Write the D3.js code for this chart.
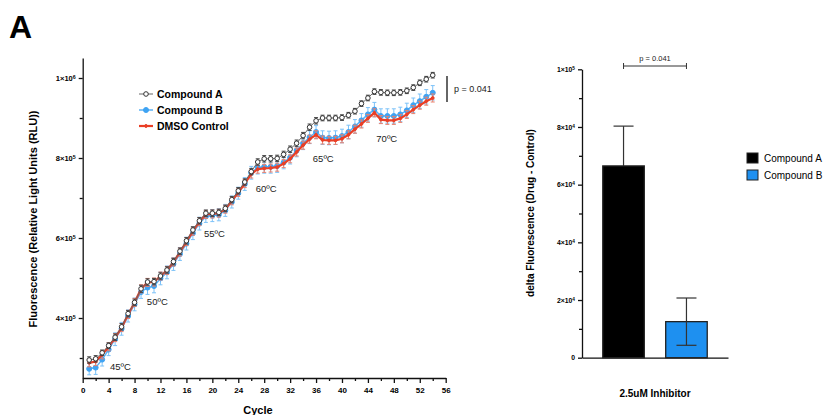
<!DOCTYPE html>
<html>
<head>
<meta charset="utf-8">
<script src="https://cdn.jsdelivr.net/npm/d3@7"></script>
<style>
  body { margin: 0; background: #fff; }
  svg { font-family: Arial, "Liberation Sans", Helvetica, sans-serif; }
</style>
</head>
<body>
<svg id="fig" width="825" height="415"></svg>
<script>
// データ（左：サイクルごとの蛍光値 ×1000 RLU、右：差分）
const cycles = d3.range(1, 55);
const compoundA = [295, 298, 313, 331, 352, 378, 411, 439, 473, 490, 491, 505, 520, 541, 567, 593, 620, 643, 662, 662,
  664, 674, 696, 718, 740, 766, 790, 798, 798, 799, 809, 822, 837, 856, 877, 893, 900, 900, 900, 901,
  907, 917, 936, 950, 966, 964, 963, 963, 964, 968, 976, 988, 997, 1007];
const compoundB = [273, 276, 296, 321, 347, 373, 405, 434, 465, 476, 480, 499, 514, 535, 560, 586, 612, 636, 654, 656,
  658, 669, 690, 712, 735, 763, 776, 778, 778, 780, 789, 801, 819, 837, 852, 865, 851, 850, 851, 855,
  865, 879, 894, 909, 921, 905, 905, 905, 909, 919, 932, 942, 953, 963];
const dmso = [288, 291, 308, 328, 351, 376, 409, 439, 473, 489, 490, 505, 519, 540, 565, 591, 617, 641, 659, 660,
  662, 672, 693, 714, 736, 760, 772, 774, 775, 777, 786, 798, 815, 832, 847, 858, 845, 844, 844, 848,
  858, 872, 885, 899, 913, 896, 894, 894, 899, 909, 921, 932, 942, 950];
const errA = [8, 8, 7, 7, 8, 8, 8, 8, 9, 8, 8, 8, 8, 8, 8, 8, 8, 8, 8, 8,
  8, 8, 8, 8, 8, 8, 8, 8, 8, 8, 8, 8, 8, 8, 8, 8, 7, 7, 7, 7,
  7, 7, 7, 7, 7, 7, 7, 7, 7, 7, 7, 7, 7, 7];
const errB = [15, 17, 16, 15, 16, 16, 15, 16, 16, 17, 17, 16, 16, 16, 16, 16, 16, 16, 15, 15,
  15, 15, 15, 15, 16, 16, 16, 16, 16, 16, 16, 16, 16, 16, 16, 16, 17, 17, 17, 17,
  17, 17, 17, 17, 18, 18, 18, 18, 18, 18, 18, 18, 18, 18];
const errC = [10, 10, 10, 10, 10, 10, 10, 10, 10, 10, 10, 10, 10, 10, 10, 10, 10, 10, 10, 10,
  10, 10, 10, 10, 10, 10, 10, 10, 10, 10, 10, 10, 10, 10, 10, 10, 10, 10, 10, 10,
  10, 10, 10, 10, 10, 10, 10, 10, 10, 10, 10, 10, 10, 10];
const tempLabels = ["45ºC", "50ºC", "55ºC", "60ºC", "65ºC", "70ºC"];
const tempCycles = [4.2, 9.9, 18.7, 26.7, 35.5, 45.3];
const tempValues = [271, 432, 602, 715, 790, 840];
const seriesNames = ["Compound A", "Compound B", "DMSO Control"];

const barGroups = ["Compound A", "Compound B"];
const barValues = [66500, 12500];
const barErrors = [13800, 8200];

const svg = d3.select("#fig");

// パネルラベル
svg.append("text").attr("x", 9).attr("y", 38)
  .attr("font-size", 32).attr("font-weight", "bold").text("A");

// 10のべき表記（上付きはtspanで）
function sciLabels(sel) {
  sel.selectAll(".tick text").each(function(v) {
    const t = d3.select(this);
    t.text(null);
    if (v === 0) { t.text("0"); return; }
    const e = Math.floor(Math.log10(v) + 1e-9);
    const m = Math.round(v / Math.pow(10, e));
    t.append("tspan").text(m + "×10");
    t.append("tspan").attr("dy", "-0.45em").attr("font-size", "0.7em").text(e);
  });
}

// ===== 左のグラフ =====
const x = d3.scaleLinear().domain([0, 56]).range([82.7, 445.7]);
const y = d3.scaleLinear().domain([250000, 1050000]).range([378, 58]);

const gxL = svg.append("g").attr("transform", "translate(0,378)")
  .call(d3.axisBottom(x).tickValues(d3.range(0, 57, 4)).tickSize(5).tickSizeOuter(0));
svg.append("g").attr("transform", "translate(0,378)")
  .call(d3.axisBottom(x).tickValues(d3.range(2, 56, 4)).tickSize(3).tickFormat("").tickSizeOuter(0))
  .select(".domain").remove();
gxL.selectAll("text").attr("font-size", 8).attr("font-weight", "bold").attr("dy", "0.9em");

const gyL = svg.append("g").attr("transform", "translate(82.7,0)")
  .call(d3.axisLeft(y).tickValues([400000, 600000, 800000, 1000000]).tickSize(4).tickSizeOuter(0))
  .call(sciLabels);
svg.append("g").attr("transform", "translate(82.7,0)")
  .call(d3.axisLeft(y).tickValues([300000, 500000, 700000, 900000]).tickSize(3).tickFormat("").tickSizeOuter(0))
  .select(".domain").remove();
gyL.selectAll(".tick text").attr("font-size", 7.5).attr("font-weight", "bold");
svg.selectAll(".domain, .tick line").attr("stroke", "#111").attr("stroke-width", 1.3);

svg.append("text").attr("transform", "translate(37,219) rotate(-90)")
  .attr("text-anchor", "middle").attr("font-size", 11).attr("font-weight", "bold")
  .text("Fluorescence (Relative Light Units (RLU))");
svg.append("text").attr("x", 258).attr("y", 414).attr("text-anchor", "middle")
  .attr("font-size", 11).attr("font-weight", "bold").text("Cycle");

const series = [
  { name: seriesNames[1], vals: compoundB, err: errB, line: "#5ab2f6", err_c: "#7cc2f8", lw: 1.5, dot: "#3ea3f3", stroke: "#3ea3f3", r: 2.5 },
  { name: seriesNames[2], vals: dmso, err: errC, line: "#ea3f26", err_c: "#e9826f", lw: 2.2, dot: "#ea3f26", stroke: "#ea3f26", r: 1.4 },
  { name: seriesNames[0], vals: compoundA, err: errA, line: "#666", err_c: "#444", lw: 1, dot: "#fff", stroke: "#333", r: 2.3 }
];

series.forEach(s => {
  const g = svg.append("g");
  const pts = cycles.map((c, i) => ({ c, v: s.vals[i] * 1000, e: s.err[i] * 1000 }));
  // エラーバー
  const eb = g.selectAll(".eb").data(pts).enter().append("g")
    .attr("stroke", s.err_c).attr("stroke-width", 1);
  eb.append("line").attr("x1", d => x(d.c)).attr("x2", d => x(d.c))
    .attr("y1", d => y(d.v - d.e)).attr("y2", d => y(d.v + d.e));
  eb.append("line").attr("x1", d => x(d.c) - 2).attr("x2", d => x(d.c) + 2)
    .attr("y1", d => y(d.v + d.e)).attr("y2", d => y(d.v + d.e));
  eb.append("line").attr("x1", d => x(d.c) - 2).attr("x2", d => x(d.c) + 2)
    .attr("y1", d => y(d.v - d.e)).attr("y2", d => y(d.v - d.e));
  // 線
  g.append("path").datum(pts)
    .attr("fill", "none").attr("stroke", s.line).attr("stroke-width", s.lw)
    .attr("d", d3.line().x(d => x(d.c)).y(d => y(d.v)));
  // マーカー
  g.selectAll("circle").data(pts).enter().append("circle")
    .attr("cx", d => x(d.c)).attr("cy", d => y(d.v)).attr("r", s.r)
    .attr("fill", s.dot).attr("stroke", s.stroke).attr("stroke-width", 1);
});

// 温度ラベル
svg.selectAll(".temp").data(tempLabels).enter().append("text")
  .attr("x", (d, i) => x(tempCycles[i])).attr("y", (d, i) => y(tempValues[i] * 1000))
  .attr("font-size", 9.5).attr("fill", "#222").text(d => d);

// 凡例
const legL = [series[2], series[0], series[1]];
legL.forEach((s, i) => {
  const yy = 94 + i * 16;
  svg.append("line").attr("x1", 139).attr("x2", 153).attr("y1", yy).attr("y2", yy)
    .attr("stroke", s.line).attr("stroke-width", s.lw);
  svg.append("circle").attr("cx", 146).attr("cy", yy).attr("r", s.r)
    .attr("fill", s.dot).attr("stroke", s.stroke);
  svg.append("text").attr("x", 157).attr("y", yy + 4).attr("font-size", 10.5)
    .attr("font-weight", "bold").text(s.name);
});

// p値
svg.append("line").attr("x1", 447).attr("x2", 447).attr("y1", 76).attr("y2", 102)
  .attr("stroke", "#333").attr("stroke-width", 1.5);
svg.append("text").attr("x", 454).attr("y", 92).attr("font-size", 9).attr("fill", "#222").text("p = 0.041");

// ===== 右のグラフ =====
const xb = d3.scaleBand().domain(barGroups).range([582, 728]).paddingInner(0.34).paddingOuter(0.33);
const yb = d3.scaleLinear().domain([0, 100000]).range([357.7, 69.3]);
const barColors = ["#000000", "#1e90f0"];

svg.append("g").attr("transform", "translate(0,357.7)")
  .call(d3.axisBottom(xb).tickSize(0).tickFormat(""));
const gyR = svg.append("g").attr("transform", "translate(582,0)")
  .call(d3.axisLeft(yb).tickValues([0, 20000, 40000, 60000, 80000, 100000]).tickSize(4).tickSizeOuter(0))
  .call(sciLabels);
svg.append("g").attr("transform", "translate(582,0)")
  .call(d3.axisLeft(yb).tickValues([10000, 30000, 50000, 70000, 90000]).tickSize(3).tickFormat("").tickSizeOuter(0))
  .select(".domain").remove();
gyR.selectAll(".tick text").attr("font-size", 6.8).attr("font-weight", "bold");
svg.selectAll(".domain, .tick line").attr("stroke", "#111").attr("stroke-width", 1.3);

// エラーバー（上）
barGroups.forEach((g, i) => {
  const cx = xb(g) + xb.bandwidth() / 2;
  const lo = i === 0 ? barValues[i] : barValues[i] - barErrors[i];
  svg.append("line").attr("x1", cx).attr("x2", cx)
    .attr("y1", yb(lo)).attr("y2", yb(barValues[i] + barErrors[i]))
    .attr("stroke", "#333").attr("stroke-width", 1.2);
  svg.append("line").attr("x1", cx - 10).attr("x2", cx + 10)
    .attr("y1", yb(barValues[i] + barErrors[i])).attr("y2", yb(barValues[i] + barErrors[i]))
    .attr("stroke", "#333").attr("stroke-width", 1.2);
});
svg.selectAll(".bar").data(barGroups).enter().append("rect")
  .attr("x", d => xb(d)).attr("width", xb.bandwidth())
  .attr("y", (d, i) => yb(barValues[i])).attr("height", (d, i) => yb(0) - yb(barValues[i]))
  .attr("fill", (d, i) => barColors[i]).attr("stroke", "#222").attr("stroke-width", 1.3);
// 青いバーの下側エラー（バーの上に描く）
{
  const cx = xb(barGroups[1]) + xb.bandwidth() / 2;
  const yl = yb(barValues[1] - barErrors[1]);
  svg.append("line").attr("x1", cx).attr("x2", cx).attr("y1", yb(barValues[1])).attr("y2", yl)
    .attr("stroke", "#333").attr("stroke-width", 1.2);
  svg.append("line").attr("x1", cx - 10).attr("x2", cx + 10).attr("y1", yl).attr("y2", yl)
    .attr("stroke", "#333").attr("stroke-width", 1.2);
}

svg.append("text").attr("transform", "translate(534,213) rotate(-90)")
  .attr("text-anchor", "middle").attr("font-size", 10).attr("font-weight", "bold")
  .text("delta Fluorescence (Drug - Control)");
svg.append("text").attr("x", 655).attr("y", 397).attr("text-anchor", "middle")
  .attr("font-size", 10).attr("font-weight", "bold").text("2.5uM Inhibitor");

// p値ブラケット
const bx1 = xb(barGroups[0]) + xb.bandwidth() / 2, bx2 = xb(barGroups[1]) + xb.bandwidth() / 2;
svg.append("line").attr("x1", bx1).attr("x2", bx2).attr("y1", 66).attr("y2", 66).attr("stroke", "#333");
svg.append("line").attr("x1", bx1).attr("x2", bx1).attr("y1", 63).attr("y2", 69).attr("stroke", "#333");
svg.append("line").attr("x1", bx2).attr("x2", bx2).attr("y1", 63).attr("y2", 69).attr("stroke", "#333");
svg.append("text").attr("x", (bx1 + bx2) / 2).attr("y", 61).attr("text-anchor", "middle")
  .attr("font-size", 7.5).attr("fill", "#222").text("p = 0.041");

// 右の凡例
barGroups.forEach((g, i) => {
  const yy = 153 + i * 17;
  svg.append("rect").attr("x", 747).attr("y", yy).attr("width", 11).attr("height", 10)
    .attr("fill", barColors[i]).attr("stroke", "#222").attr("stroke-width", 1);
  svg.append("text").attr("x", 764).attr("y", yy + 9).attr("font-size", 10).text(g);
});
</script>
</body>
</html>
